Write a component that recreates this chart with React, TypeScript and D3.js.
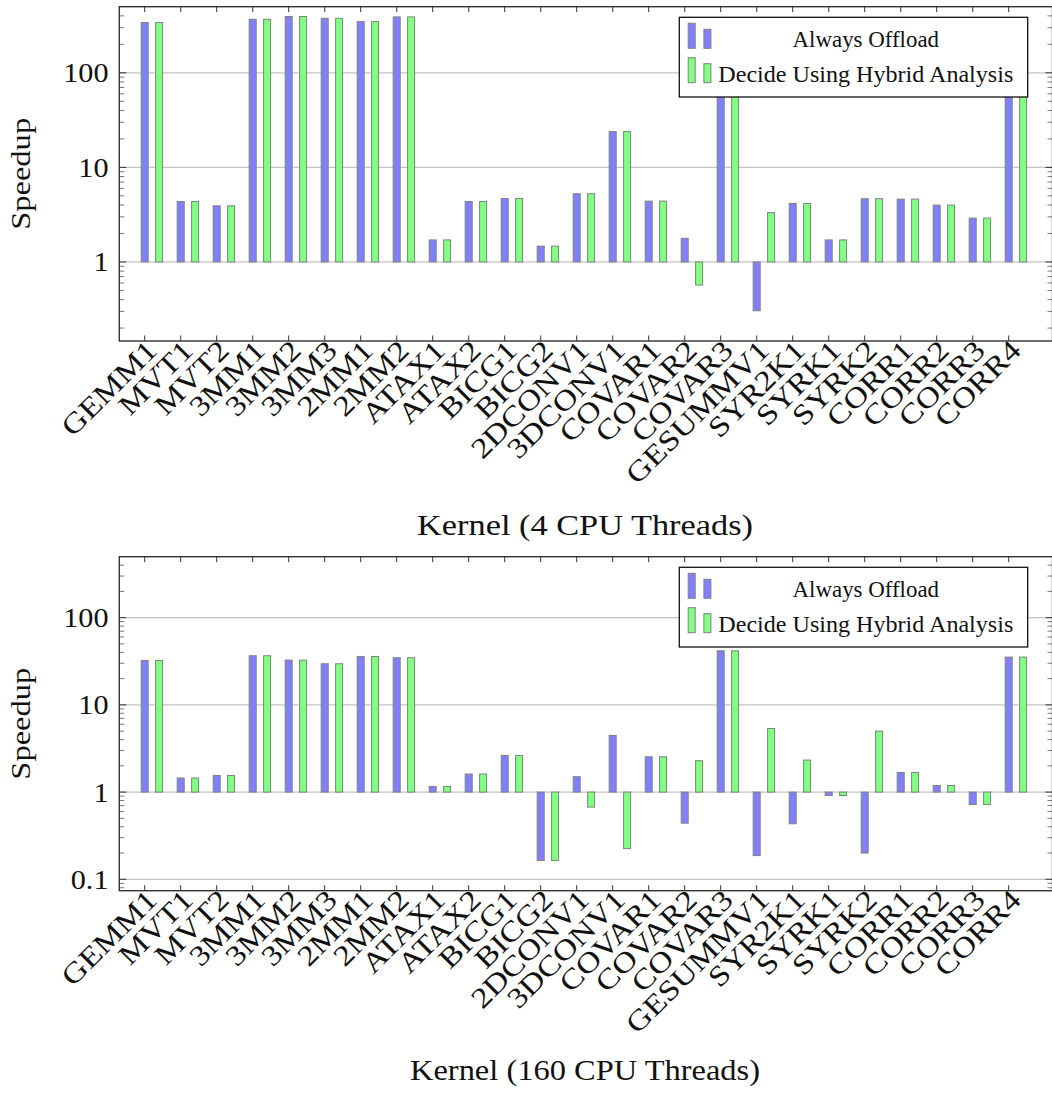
import React from 'react';
import * as d3 from 'd3';

const kernels = ['GEMM1', 'MVT1', 'MVT2', '3MM1', '3MM2', '3MM3', '2MM1', '2MM2', 'ATAX1', 'ATAX2',
  'BICG1', 'BICG2', '2DCONV1', '3DCONV1', 'COVAR1', 'COVAR2', 'COVAR3', 'GESUMMV1', 'SYR2K1',
  'SYRK1', 'SYRK2', 'CORR1', 'CORR2', 'CORR3', 'CORR4'];

// 4 CPU threads
const offload4 = [340, 4.36, 3.92, 368, 394, 377, 348, 390, 1.71, 4.36, 4.69, 1.47, 5.26, 23.9, 4.40,
  1.78, 350, 0.305, 4.15, 1.71, 4.66, 4.62, 3.99, 2.91, 360];
const hybrid4 = [340, 4.36, 3.92, 368, 394, 377, 348, 390, 1.71, 4.36, 4.69, 1.47, 5.26, 23.9, 4.40,
  0.57, 350, 3.33, 4.15, 1.71, 4.66, 4.62, 3.99, 2.91, 360];

// 160 CPU threads
const offload160 = [32.3, 1.45, 1.55, 36.6, 32.6, 29.6, 35.9, 34.7, 1.16, 1.61, 2.63, 0.164, 1.50, 4.46,
  2.54, 0.44, 41.7, 0.187, 0.433, 0.914, 0.2, 1.68, 1.19, 0.72, 35.3];
const hybrid160 = [32.3, 1.45, 1.55, 36.6, 32.6, 29.6, 35.9, 34.7, 1.16, 1.61, 2.63, 0.164, 0.673, 0.225,
  2.54, 2.29, 41.7, 5.36, 2.33, 0.914, 5.0, 1.68, 1.19, 0.72, 35.3];

const yTicks4 = [1, 10, 100];
const yTicks160 = [0.1, 1, 10, 100];
const legendLabels = ['Always Offload', 'Decide Using Hybrid Analysis'];

const FONT = '"Liberation Serif", "Times New Roman", serif';
const BLUE = '#8080ff';
const GREEN = '#80ff80';
const BAR_STROKE = '#808080';
const LEFT = 119.3;
const RIGHT = 1052.5;

function Panel({ top, bottom, yMin, yMax, offload, hybrid, ticks, title, titleY, titleLen }) {
  const x = d3.scalePoint().domain(kernels).range([144.7, 1008.7]);
  const y = d3.scaleLog().domain([yMin, yMax]).range([bottom, top]);
  const barW = 7;
  const shift = 14.4;

  // minor ticks: 2..9 of every decade within the domain
  const minor = [];
  for (let e = -2; e <= 3; e++) {
    for (let k = 2; k <= 9; k++) {
      const v = k * Math.pow(10, e);
      if (v > yMin && v < yMax) minor.push(v);
    }
  }

  const lx = 679.3;
  const ly = top + 10.6;

  return (
    <g>
      {/* grid */}
      {ticks.map(t => (
        <line key={'g' + t} x1={LEFT} x2={RIGHT} y1={y(t)} y2={y(t)} stroke="#c4c4c4" strokeWidth={1.3} />
      ))}

      {/* bars */}
      {kernels.map((k, i) => {
        const v1 = offload[i];
        const v2 = hybrid[i];
        return (
          <g key={k}>
            <rect x={x(k) - barW / 2} width={barW}
              y={Math.min(y(1), y(v1))} height={Math.abs(y(v1) - y(1))}
              fill={BLUE} stroke={BAR_STROKE} strokeWidth={1} />
            <rect x={x(k) + shift - barW / 2} width={barW}
              y={Math.min(y(1), y(v2))} height={Math.abs(y(v2) - y(1))}
              fill={GREEN} stroke={BAR_STROKE} strokeWidth={1} />
          </g>
        );
      })}

      {/* axis ticks */}
      {kernels.map(k => (
        <g key={'xt' + k} stroke="#333" strokeWidth={1}>
          <line x1={x(k)} x2={x(k)} y1={bottom} y2={bottom - 5.5} />
          <line x1={x(k)} x2={x(k)} y1={top} y2={top + 5.5} />
        </g>
      ))}
      {ticks.map(t => (
        <g key={'yt' + t} stroke="#333" strokeWidth={1}>
          <line x1={LEFT} x2={LEFT + 7} y1={y(t)} y2={y(t)} />
          <line x1={RIGHT} x2={RIGHT - 7} y1={y(t)} y2={y(t)} />
        </g>
      ))}
      {minor.map(t => (
        <g key={'ym' + t} stroke="#555" strokeWidth={0.8}>
          <line x1={LEFT} x2={LEFT + 5} y1={y(t)} y2={y(t)} />
          <line x1={RIGHT} x2={RIGHT - 5} y1={y(t)} y2={y(t)} />
        </g>
      ))}

      {/* frame */}
      <rect x={LEFT} y={top} width={RIGHT - LEFT} height={bottom - top} fill="none" stroke="#333" strokeWidth={1.4} />

      {/* y tick labels */}
      {ticks.map(t => (
        <text key={'yl' + t} transform={`translate(108.5,${y(t) + 9.5}) scale(1.12,1)`}
          textAnchor="end" fontFamily={FONT} fontSize={27} fill="#111">
          {d3.format('~g')(t)}
        </text>
      ))}

      {/* x tick labels */}
      {kernels.map(k => (
        <text key={'xl' + k} transform={`translate(${x(k) + 14},${bottom + 11}) rotate(-45) scale(1.18,1)`}
          textAnchor="end" fontFamily={FONT} fontSize={28.5} fill="#111">
          {k}
        </text>
      ))}

      {/* axis labels */}
      <text transform={`translate(30,${(top + bottom) / 2}) rotate(-90)`} textAnchor="middle"
        fontFamily={FONT} fontSize={28} textLength={112} lengthAdjust="spacingAndGlyphs" fill="#111">
        Speedup
      </text>
      <text x={585} y={titleY} textAnchor="middle" fontFamily={FONT} fontSize={29}
        textLength={titleLen} lengthAdjust="spacingAndGlyphs" fill="#111">
        {title}
      </text>

      {/* legend */}
      <g>
        <rect x={lx} y={ly} width={348.4} height={79.7} fill="#fff" stroke="#111" strokeWidth={1.3} />
        <rect x={lx + 8.9} y={ly + 6} width={7} height={25} fill={BLUE} stroke={BAR_STROKE} />
        <rect x={lx + 24.6} y={ly + 12} width={7} height={19} fill={BLUE} stroke={BAR_STROKE} />
        <rect x={lx + 8.9} y={ly + 40.4} width={7} height={25} fill={GREEN} stroke={BAR_STROKE} />
        <rect x={lx + 24.6} y={ly + 46.4} width={7} height={19} fill={GREEN} stroke={BAR_STROKE} />
        <text x={lx + 186.5} y={ly + 29.4} textAnchor="middle" fontFamily={FONT} fontSize={22.5}
          textLength={146.5} lengthAdjust="spacingAndGlyphs" fill="#111">{legendLabels[0]}</text>
        <text x={lx + 186.5} y={ly + 64.4} textAnchor="middle" fontFamily={FONT} fontSize={22.5}
          textLength={295} lengthAdjust="spacingAndGlyphs" fill="#111">{legendLabels[1]}</text>
      </g>
    </g>
  );
}

export default function App() {
  return (
    <svg width={1052} height={1093} style={{ position: 'absolute', left: 0, top: 0, display: 'block', background: '#fff' }}>
      <rect width={1052} height={1093} fill="#fff" />
      <Panel top={6.7} bottom={341} yMin={0.146} yMax={500} offload={offload4} hybrid={hybrid4}
        ticks={yTicks4} title="Kernel (4 CPU Threads)" titleY={535} titleLen={336} />
      <Panel top={556.7} bottom={890.7} yMin={0.074} yMax={500} offload={offload160} hybrid={hybrid160}
        ticks={yTicks160} title="Kernel (160 CPU Threads)" titleY={1080} titleLen={350} />
    </svg>
  );
}
